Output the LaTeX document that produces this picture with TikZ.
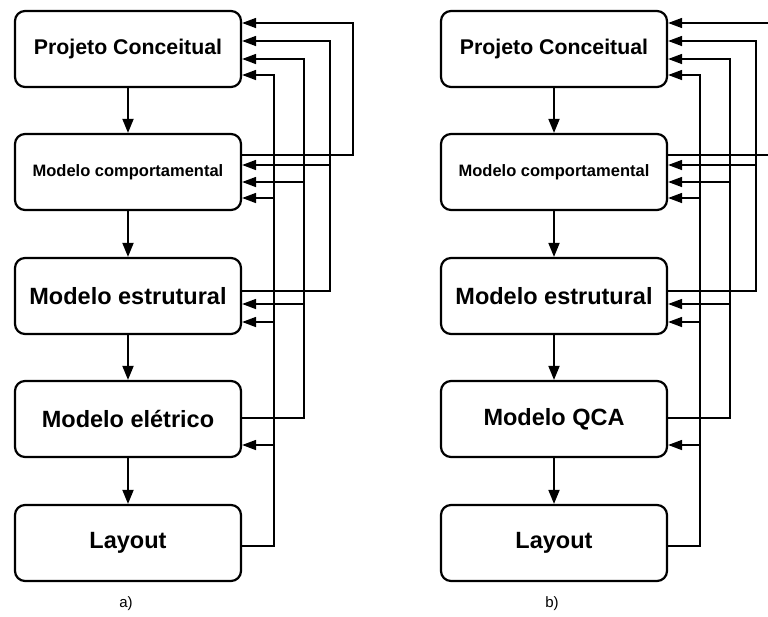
\documentclass[tikz,border=0pt]{standalone}
\usepackage{fontspec}
\setmainfont{Liberation Sans}
\usetikzlibrary{arrows.meta}

\begin{document}
\begin{tikzpicture}[x=1pt,y=-1pt,
  stage/.style={draw, line width=2.2pt, rounded corners=10pt,
    minimum width=226pt, minimum height=76pt, inner sep=0pt,
    font=\bfseries\fontsize{23.5}{26}\selectfont},
  smalltext/.style={font=\bfseries\fontsize{16.5}{19}\selectfont},
  midtext/.style={font=\bfseries\fontsize{21.3}{24}\selectfont},
  flow/.style={line width=1.8pt, -{Triangle[length=14pt,width=11pt]}},
  back/.style={line width=1.6pt, -{Triangle[length=14pt,width=10pt]}},
  caption/.style={font=\fontsize{15}{17}\selectfont},
]
\useasboundingbox (0,0) rectangle (768,616);
\clip (0,0) rectangle (768,616);

\foreach \p/\dx/\fourth/\cap in {a/0/{Modelo elétrico}/{a)}, b/426/{Modelo QCA}/{b)}} {
  \begin{scope}[xshift=\dx pt]
    % design stages, top to bottom
    \node[stage, midtext]   (\p1) at (128,49)  {Projeto Conceitual};
    \node[stage, smalltext] (\p2) at (128,172) {Modelo comportamental};
    \node[stage]            (\p3) at (128,296) {Modelo estrutural};
    \node[stage]            (\p4) at (128,419) {\fourth};
    \node[stage]            (\p5) at (128,543) {Layout};
    \node[caption]          (\p cap) at (126,604) {\cap};

    % forward flow
    \draw[flow] (\p1) -- (\p2);
    \draw[flow] (\p2) -- (\p3);
    \draw[flow] (\p3) -- (\p4);
    \draw[flow] (\p4) -- (\p5);

    % feedback from Modelo comportamental
    \draw[back] (\p2.east |- 0,155) -| (353,23) -- (\p1.east |- 0,23);

    % feedback from Modelo estrutural
    \draw[back] (\p3.east |- 0,291) -| (330,41) -- (\p1.east |- 0,41);
    \draw[back] (\p3.east |- 0,291) -| (330,165) -- (\p2.east |- 0,165);

    % feedback from the fourth stage
    \draw[back] (\p4.east |- 0,418) -| (304,59) -- (\p1.east |- 0,59);
    \draw[back] (\p4.east |- 0,418) -| (304,182) -- (\p2.east |- 0,182);
    \draw[back] (\p4.east |- 0,418) -| (304,304) -- (\p3.east |- 0,304);

    % feedback from Layout
    \draw[back] (\p5.east |- 0,546) -| (274,75) -- (\p1.east |- 0,75);
    \draw[back] (\p5.east |- 0,546) -| (274,198) -- (\p2.east |- 0,198);
    \draw[back] (\p5.east |- 0,546) -| (274,322) -- (\p3.east |- 0,322);
    \draw[back] (\p5.east |- 0,546) -| (274,445) -- (\p4.east |- 0,445);
  \end{scope}
}
\end{tikzpicture}
\end{document}
